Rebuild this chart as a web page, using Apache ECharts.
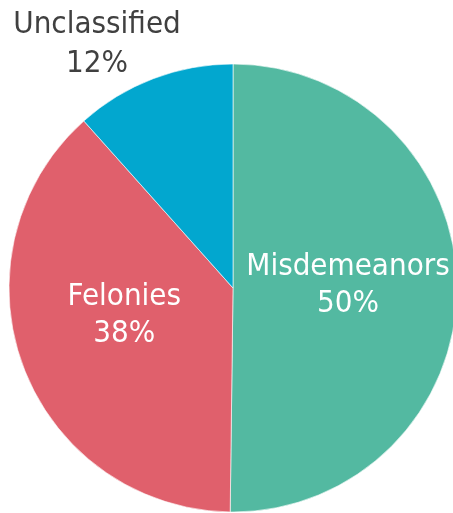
<!DOCTYPE html>
<html>
<head>
<meta charset="utf-8">
<script src="https://cdn.jsdelivr.net/npm/echarts@6/dist/echarts.min.js"></script>
<style>
html,body{margin:0;padding:0;background:#fff;}
#main{width:453px;height:513px;}
</style>
</head>
<body>
<div id="main"></div>
<script>
// 数据
var names = ['Misdemeanors', 'Felonies', 'Unclassified'];
var values = [50.2, 38.2, 11.6];
var colors = ['#53B9A1', '#E0606C', '#02A7CF'];

// 标签位置微调
var labelOffsets = {
    'Misdemeanors': [0, -3],
    'Felonies': [-1, -13],
    'Unclassified': [-95, -136]
};
var labelColors = {
    'Misdemeanors': '#ffffff',
    'Felonies': '#ffffff',
    'Unclassified': '#404040'
};

function drawPie(){
    var myChart = echarts.init(document.getElementById('main'));
    var pieData = [];
    names.forEach(function(n, i){
        pieData.push({
            name: n,
            value: values[i],
            itemStyle: {color: colors[i]},
            label: {
                offset: labelOffsets[n],
                color: labelColors[n],
                lineHeight: n == 'Unclassified' ? 39 : 37
            }
        });
    });
    var option = {
        animation: false,
        series: [
            {
                type: 'pie',
                radius: 224,
                center: [233, 288],
                startAngle: 90,
                clockwise: true,
                percentPrecision: 0,
                data: pieData,
                itemStyle: {
                    borderColor: 'rgba(255,255,255,0.6)',
                    borderWidth: 1
                },
                label: {
                    position: 'inside',
                    formatter: '{b}\n{d}%',
                    fontFamily: 'DejaVu Sans Condensed',
                    fontSize: 31,
                    lineHeight: 37,
                    align: 'center'
                },
                labelLine: {show: false}
            }
        ]
    };
    myChart.setOption(option);
}
drawPie();
</script>
</body>
</html>
